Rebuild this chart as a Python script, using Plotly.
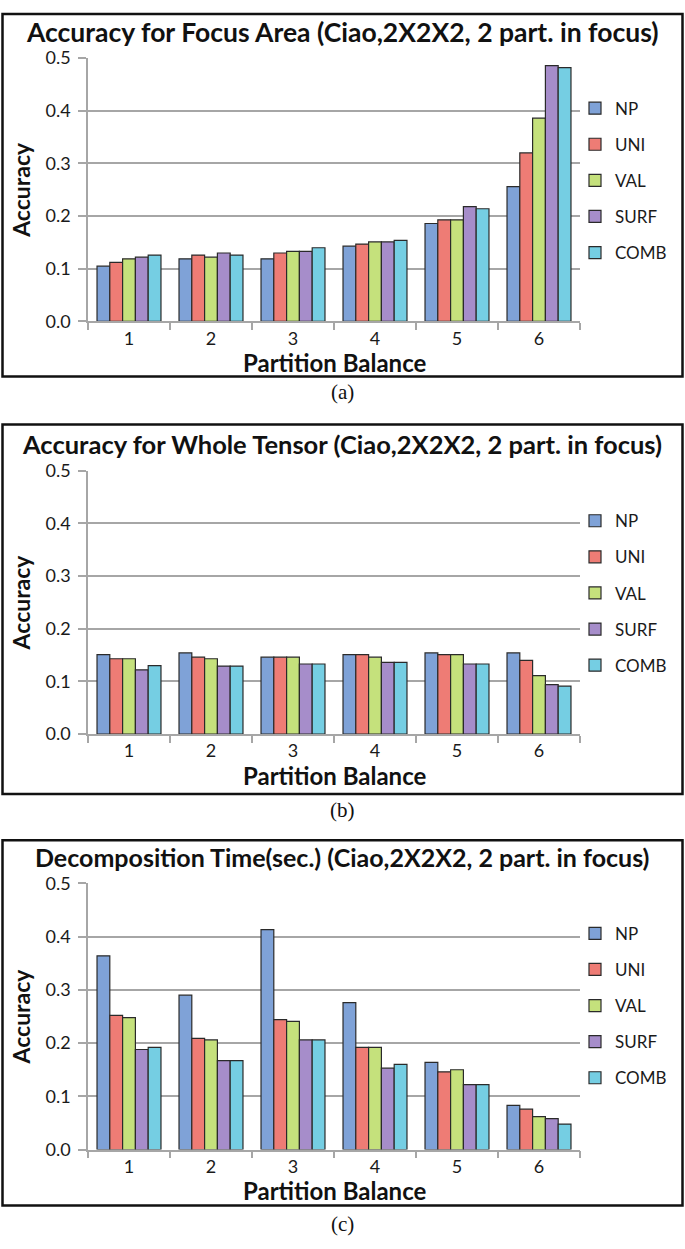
import plotly.graph_objects as go

W, H = 685, 1249

categories = ["1", "2", "3", "4", "5", "6"]
series_names = ["NP", "UNI", "VAL", "SURF", "COMB"]
y_ticks = [0.0, 0.1, 0.2, 0.3, 0.4, 0.5]

# Panel (a): Accuracy for Focus Area
focus_NP = [0.105, 0.119, 0.119, 0.143, 0.186, 0.256]
focus_UNI = [0.112, 0.126, 0.130, 0.147, 0.193, 0.320]
focus_VAL = [0.119, 0.122, 0.133, 0.151, 0.193, 0.386]
focus_SURF = [0.122, 0.130, 0.133, 0.151, 0.218, 0.486]
focus_COMB = [0.126, 0.126, 0.140, 0.154, 0.214, 0.482]

# Panel (b): Accuracy for Whole Tensor
whole_NP = [0.151, 0.154, 0.146, 0.151, 0.154, 0.154]
whole_UNI = [0.143, 0.146, 0.146, 0.151, 0.151, 0.140]
whole_VAL = [0.143, 0.143, 0.146, 0.146, 0.151, 0.111]
whole_SURF = [0.122, 0.129, 0.133, 0.136, 0.133, 0.094]
whole_COMB = [0.130, 0.129, 0.133, 0.136, 0.133, 0.091]

# Panel (c): Decomposition Time
time_NP = [0.364, 0.290, 0.413, 0.276, 0.164, 0.083]
time_UNI = [0.252, 0.209, 0.244, 0.192, 0.146, 0.076]
time_VAL = [0.248, 0.206, 0.241, 0.192, 0.150, 0.062]
time_SURF = [0.188, 0.167, 0.206, 0.153, 0.122, 0.058]
time_COMB = [0.192, 0.167, 0.206, 0.160, 0.122, 0.048]

titles = [
    "Accuracy for Focus Area (Ciao,2X2X2, 2 part. in focus)",
    "Accuracy for Whole Tensor (Ciao,2X2X2, 2 part. in focus)",
    "Decomposition Time(sec.) (Ciao,2X2X2, 2 part. in focus)",
]
captions = ["(a)", "(b)", "(c)"]
x_title = "Partition Balance"
y_title = "Accuracy"

colors = ["#7fa2d7", "#ee7c75", "#c5e17c", "#a68dca", "#75cee3"]

panel_data = [
    [focus_NP, focus_UNI, focus_VAL, focus_SURF, focus_COMB],
    [whole_NP, whole_UNI, whole_VAL, whole_SURF, whole_COMB],
    [time_NP, time_UNI, time_VAL, time_SURF, time_COMB],
]

# layout geometry (pixels)
plot_top = [47, 467, 887]
plot_bot = [315, 735, 1158]
frame_top = [2, 420, 843]
frame_bot = [371, 796, 1215]
title_y = [20, 440, 860]
title_size = [26.5, 25.5, 25]
legend_top = [80, 500, 920]
caption_y = [387, 812, 1234]
x_left, x_right = 88, 580


def fy(p):
    return 1 - p / H


def fx(p):
    return p / W


fig = go.Figure()
FONT = "Lato"
grid_col = "#a6a6a6"
text_col = "#1a1a1a"

for i in range(3):
    sfx = "" if i == 0 else str(i + 1)
    leg = "legend" if i == 0 else f"legend{i + 1}"
    for s, name in enumerate(series_names):
        fig.add_trace(go.Bar(
            x=categories, y=panel_data[i][s], name=name,
            marker=dict(color=colors[s], line=dict(color="#2a2a2a", width=1.2)),
            xaxis="x" + sfx, yaxis="y" + sfx, legend=leg,
            legendgroup=f"g{i}_{s}",
        ))
    fig.update_layout(**{
        "xaxis" + sfx: dict(
            domain=[fx(x_left), fx(x_right)], anchor="y" + sfx,
            type="category", showgrid=False, showline=True,
            linecolor=grid_col, linewidth=1.5,
            ticks="outside", tickson="boundaries", ticklen=7,
            tickcolor=grid_col, tickwidth=1.5,
            tickfont=dict(family=FONT, size=18, color=text_col),
        ),
        "yaxis" + sfx: dict(
            domain=[fy(plot_bot[i]), fy(plot_top[i])], anchor="x" + sfx,
            range=[0, 0.5], tickvals=y_ticks, tickformat=".1f",
            showgrid=True, gridcolor=grid_col, gridwidth=1.5,
            showline=True, linecolor=grid_col, linewidth=1.5,
            ticks="outside", ticklen=8, tickcolor=grid_col, tickwidth=1.5,
            ticklabelstandoff=4,
            tickfont=dict(family=FONT, size=18, color=text_col),
            zeroline=False,
        ),
        leg: dict(
            x=fx(575), xanchor="left", y=fy(legend_top[i]), yanchor="top",
            font=dict(family=FONT, size=17, color=text_col),
            tracegroupgap=11, bgcolor="rgba(0,0,0,0)", borderwidth=0,
        ),
    })
    # outer frame
    fig.add_shape(type="rect", xref="paper", yref="paper",
                  x0=fx(2.5), x1=fx(682.5), y0=fy(frame_bot[i]), y1=fy(frame_top[i]),
                  line=dict(color="#111111", width=2.5), layer="below")
    # title
    fig.add_annotation(text=f"<b>{titles[i]}</b>", xref="paper", yref="paper",
                       x=fx(342), y=fy(title_y[i]), xanchor="center", yanchor="middle",
                       showarrow=False, font=dict(family=FONT, size=title_size[i], color="#111111"))
    # axis titles
    fig.add_annotation(text=f"<b>{x_title}</b>", xref="paper", yref="paper",
                       x=fx((x_left + x_right) / 2), y=fy(plot_bot[i] + 42),
                       xanchor="center", yanchor="middle", showarrow=False,
                       font=dict(family=FONT, size=24, color="#111111"))
    fig.add_annotation(text=f"<b>{y_title}</b>", xref="paper", yref="paper",
                       x=fx(21), y=fy((plot_top[i] + plot_bot[i]) / 2),
                       xanchor="center", yanchor="middle", textangle=-90, showarrow=False,
                       font=dict(family=FONT, size=23, color="#111111"))
    # caption
    fig.add_annotation(text=captions[i], xref="paper", yref="paper",
                       x=fx(342), y=fy(caption_y[i]), xanchor="center", yanchor="middle",
                       showarrow=False, font=dict(family="Liberation Serif", size=21, color="#111111"))

fig.update_layout(
    width=W, height=H, margin=dict(l=0, r=0, t=0, b=0),
    paper_bgcolor="white", plot_bgcolor="white",
    barmode="group", bargap=0.22, bargroupgap=0.0,
    showlegend=True,
)

fig.write_html("out.html", config={"displayModeBar": False},
               post_script="document.body.style.margin='0';document.body.style.overflow='hidden';")
